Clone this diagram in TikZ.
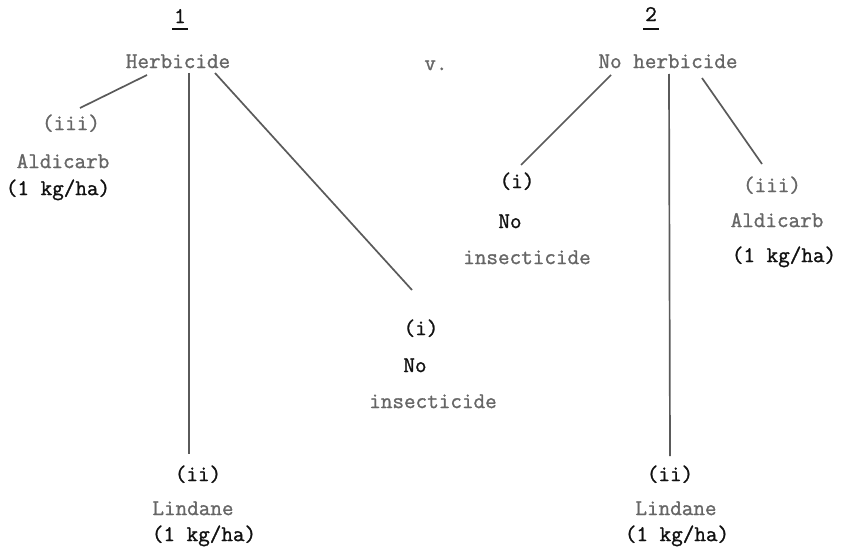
\documentclass[tikz,border=0pt]{standalone}
\usepackage{fontspec}
\newfontfamily\typew{Latin Modern Mono}[FakeBold=1.2]
\definecolor{gtext}{HTML}{666666}
\definecolor{btext}{HTML}{111111}
\definecolor{gline}{HTML}{5A5A5A}
\tikzset{
  lbl/.style={inner sep=0pt, font=\typew\fontsize{22.5}{26}\selectfont, text height=0.62em, text depth=0.2em, anchor=center},
  grey/.style={lbl, text=gtext},
  blk/.style={lbl, text=btext},
  branch/.style={draw=gline, line width=1.7pt},
  uline/.style={draw=btext, line width=1.2pt}
}
\begin{document}
\begin{tikzpicture}[x=1pt,y=-1pt]
\useasboundingbox (0,0) rectangle (841,551);
% tree 1
\node[blk] (n1) at (180,21) {1};
\coordinate (u1a) at (172,29); \coordinate (u1b) at (188,29);
\draw[uline] (u1a) -- (u1b);
\node[grey] (herb) at (178,66) {Herbicide};
\node[grey] (vs) at (436,68) {v.};
\node[grey] (l3a) at (71,128) {(iii)};
\node[grey] (l3b) at (63,166) {Aldicarb};
\node[blk] (l3c) at (58,193) {(1 kg/ha)};
\node[blk] (l1a) at (421,333) {(i)};
\node[blk] (l1b) at (415,370) {No};
\node[grey] (l1c) at (433,406) {insecticide};
\node[blk] (l2a) at (198,479) {(ii)};
\node[grey] (l2b) at (193,513) {Lindane};
\node[blk] (l2c) at (204,539) {(1 kg/ha)};
\coordinate (h1s3) at (147,75); \coordinate (e13) at (80,108);
\coordinate (h1s2) at (189,73); \coordinate (e12) at (189,454);
\coordinate (h1s1) at (215,73); \coordinate (e11) at (412,290);
\draw[branch] (h1s3) -- (e13);
\draw[branch] (h1s2) -- (e12);
\draw[branch] (h1s1) -- (e11);
% tree 2
\node[blk] (n2) at (651,19) {2};
\coordinate (u2a) at (643,29); \coordinate (u2b) at (659,29);
\draw[uline] (u2a) -- (u2b);
\node[grey] (noherb) at (668,66) {No herbicide};
\node[blk] (r1a) at (517,186) {(i)};
\node[blk] (r1b) at (510,226) {No};
\node[grey] (r1c) at (527,262) {insecticide};
\node[grey] (r3a) at (772,190) {(iii)};
\node[grey] (r3b) at (777,225) {Aldicarb};
\node[blk] (r3c) at (784,260) {(1 kg/ha)};
\node[blk] (r2a) at (670,479) {(ii)};
\node[grey] (r2b) at (676,513) {Lindane};
\node[blk] (r2c) at (677,539) {(1 kg/ha)};
\coordinate (h2s1) at (611,75); \coordinate (e21) at (521,165);
\coordinate (h2s2) at (669,74); \coordinate (e22) at (670,456);
\coordinate (h2s3) at (702,78); \coordinate (e23) at (762,164);
\draw[branch] (h2s1) -- (e21);
\draw[branch] (h2s2) -- (e22);
\draw[branch] (h2s3) -- (e23);
\end{tikzpicture}
\end{document}
